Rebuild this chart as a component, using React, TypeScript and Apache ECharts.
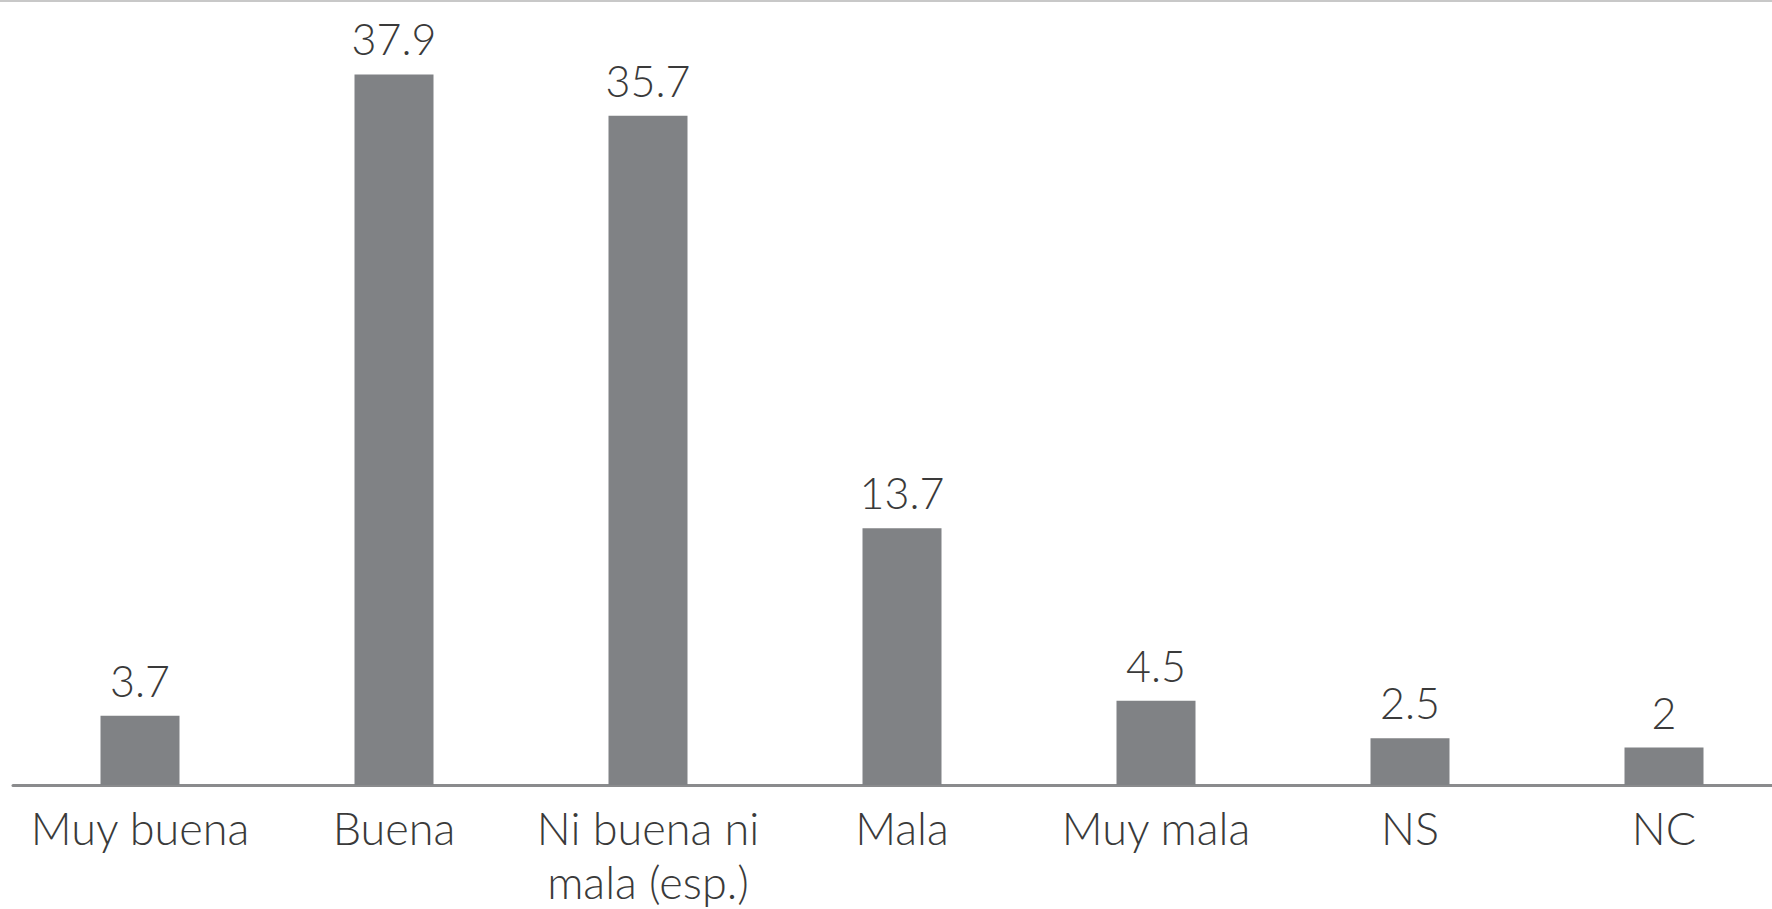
import React, { useEffect, useRef } from "react";
import * as echarts from "echarts";

const categories = ["Muy buena", "Buena", "Ni buena ni\nmala (esp.)", "Mala", "Muy mala", "NS", "NC"];
const values = [3.7, 37.9, 35.7, 13.7, 4.5, 2.5, 2];

export default function App() {
  const ref = useRef<HTMLDivElement>(null);
  useEffect(() => {
    if (!ref.current) return;
    const chart = echarts.init(ref.current, null, { renderer: "svg" });
    chart.setOption({
      animation: false,
      backgroundColor: "#ffffff",
      grid: { left: 13, top: 35, width: 1778, height: 753, containLabel: false },
      xAxis: {
        type: "category",
        data: categories,
        axisLine: { show: true, lineStyle: { color: "#8a8b8d", width: 3 } },
        axisTick: { show: false },
        axisLabel: {
          color: "#3a3a3a",
          fontFamily: "Lato",
          fontWeight: 300,
          fontSize: 45,
          lineHeight: 54,
          margin: 16,
          interval: 0,
        },
      },
      yAxis: { type: "value", min: 0, max: 40, show: false, splitLine: { show: false } },
      graphic: [
        { type: "rect", shape: { x: 0, y: 0, width: 1820, height: 2 }, style: { fill: "#c8c8c8" } },
      ],
      series: [
        {
          type: "bar",
          data: values,
          barWidth: 79,
          itemStyle: { color: "#808285" },
          label: {
            show: true,
            position: "top",
            distance: 14,
            color: "#3a3a3a",
            fontFamily: "Lato",
            fontWeight: 300,
            fontSize: 43,
          },
        },
      ],
    });
    return () => chart.dispose();
  }, []);
  return (
    <div style={{ position: "fixed", left: 0, top: 0, width: 1772, height: 909, overflow: "hidden", background: "#fff" }}>
      <div ref={ref} style={{ position: "absolute", left: 0, top: 0, width: 1820, height: 909 }} />
    </div>
  );
}
